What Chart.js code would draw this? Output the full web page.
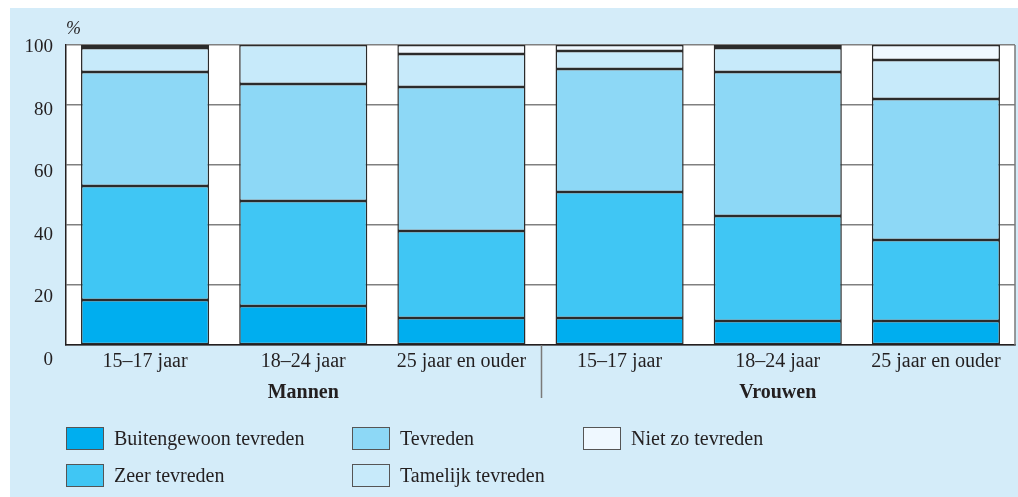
<!DOCTYPE html>
<html>
<head>
<meta charset="utf-8">
<script src="https://cdn.jsdelivr.net/npm/chart.js@4"></script>
<style>
  body { margin: 0; background: #fff; }
  #panel { position: absolute; left: 10px; top: 8px; width: 1008px; height: 489px; background: #d4ecf9; }
  #chart { position: absolute; left: 0; top: 0; }
  .item { position: absolute; font: 20px "Liberation Serif", serif; color: #231f20; line-height: 23px; white-space: nowrap; }
  .item span { display: inline-block; width: 36px; height: 21px; border: 1px solid #555; vertical-align: top; margin-right: 10px; }
</style>
</head>
<body>
<div id="panel"></div>
<canvas id="chart" width="1018" height="497"></canvas>
<div id="legend"></div>
<script>
var labels = ["15–17 jaar", "18–24 jaar", "25 jaar en ouder", "15–17 jaar", "18–24 jaar", "25 jaar en ouder"];
var groups = ["Mannen", "Vrouwen"];
var yTicks = [0, 20, 40, 60, 80, 100];

var seriesNames = ["Buitengewoon tevreden", "Zeer tevreden", "Tevreden", "Tamelijk tevreden", "Niet zo tevreden"];
var buitengewoon = [15, 13, 9, 9, 8, 8];
var zeer = [38, 35, 29, 42, 35, 27];
var tevreden = [38, 39, 48, 41, 48, 47];
var tamelijk = [8, 13, 11, 6, 8, 13];
var nietZo = [1, 0, 3, 2, 1, 5];
var seriesColors = ["#00aeef", "#40c6f4", "#8dd8f6", "#c7eafa", "#eff8ff"];

var textColor = "#231f20";
var serif = '"Liberation Serif", serif';

var allSeries = [buitengewoon, zeer, tevreden, tamelijk, nietZo];
var datasets = [];
for (let i = 0; i < allSeries.length; i++) {
    datasets.push({
        label: seriesNames[i],
        data: allSeries[i],
        backgroundColor: seriesColors[i],
        borderColor: "#2b2b2b",
        borderWidth: 1.5,
        borderSkipped: false,
        barPercentage: 0.9,
        categoryPercentage: 0.9
    });
}

// white plot area, y labels, % sign, group labels and the separator
var extras = {
    id: "extras",
    beforeDraw: function(chart) {
        var a = chart.chartArea, ctx = chart.ctx;
        ctx.save();
        ctx.fillStyle = "#fff";
        ctx.fillRect(a.left, a.top, a.right - a.left, a.bottom - a.top);
        ctx.restore();
    },
    afterDraw: function(chart) {
        var a = chart.chartArea, ctx = chart.ctx;
        var y = chart.scales.y, x = chart.scales.x;
        ctx.save();
        ctx.fillStyle = textColor;
        ctx.font = "19px " + serif;
        ctx.textAlign = "right";
        ctx.textBaseline = "middle";
        for (let i = 0; i < yTicks.length; i++) {
            var v = yTicks[i];
            ctx.fillText(String(v), a.left - 13, y.getPixelForValue(v) + (100 - v) * 0.13 + 2);
        }
        ctx.textAlign = "left";
        ctx.font = "italic 18px " + serif;
        ctx.fillText("%", a.left, a.top - 16);

        ctx.font = "bold 20px " + serif;
        ctx.textAlign = "center";
        ctx.fillText(groups[0], x.getPixelForValue(1), a.bottom + 48);
        ctx.fillText(groups[1], x.getPixelForValue(4), a.bottom + 48);

        ctx.strokeStyle = "#7a7a7a";
        ctx.lineWidth = 1.5;
        ctx.beginPath();
        var sx = Math.round(x.getPixelForValue(2.5)) + 0.5;
        ctx.moveTo(sx, a.bottom);
        ctx.lineTo(sx, a.bottom + 53);
        ctx.moveTo(a.right, a.top);
        ctx.lineTo(a.right, a.bottom);
        ctx.stroke();
        ctx.restore();
    }
};

new Chart(document.getElementById("chart"), {
    type: "bar",
    data: { labels: labels, datasets: datasets },
    options: {
        responsive: false,
        animation: false,
        layout: { padding: { left: 0, top: 45, right: 3, bottom: 92 } },
        plugins: { legend: { display: false }, tooltip: { enabled: false } },
        scales: {
            x: {
                stacked: true,
                grid: { display: false, drawTicks: false },
                border: { display: true, color: textColor, width: 1.5 },
                ticks: { color: textColor, font: { family: serif, size: 20 }, padding: 5, maxRotation: 0 },
                afterFit: function(s) { s.height = 60; }
            },
            y: {
                stacked: true,
                min: 0,
                max: 100,
                ticks: { display: false, stepSize: 20 },
                grid: { color: "#808080", lineWidth: 1.5, drawTicks: false },
                border: { display: true, color: textColor, width: 1.5 },
                afterFit: function(s) { s.width = 66; }
            }
        }
    },
    plugins: [extras]
});

// legend in three columns, like the original
var legendPos = [[66, 427], [66, 464], [352, 427], [352, 464], [583, 427]];
var legend = document.getElementById("legend");
for (let i = 0; i < seriesNames.length; i++) {
    var d = document.createElement("div");
    d.className = "item";
    d.style.left = legendPos[i][0] + "px";
    d.style.top = legendPos[i][1] + "px";
    d.innerHTML = '<span style="background:' + seriesColors[i] + '"></span>' + seriesNames[i];
    legend.appendChild(d);
}
</script>
</body>
</html>
